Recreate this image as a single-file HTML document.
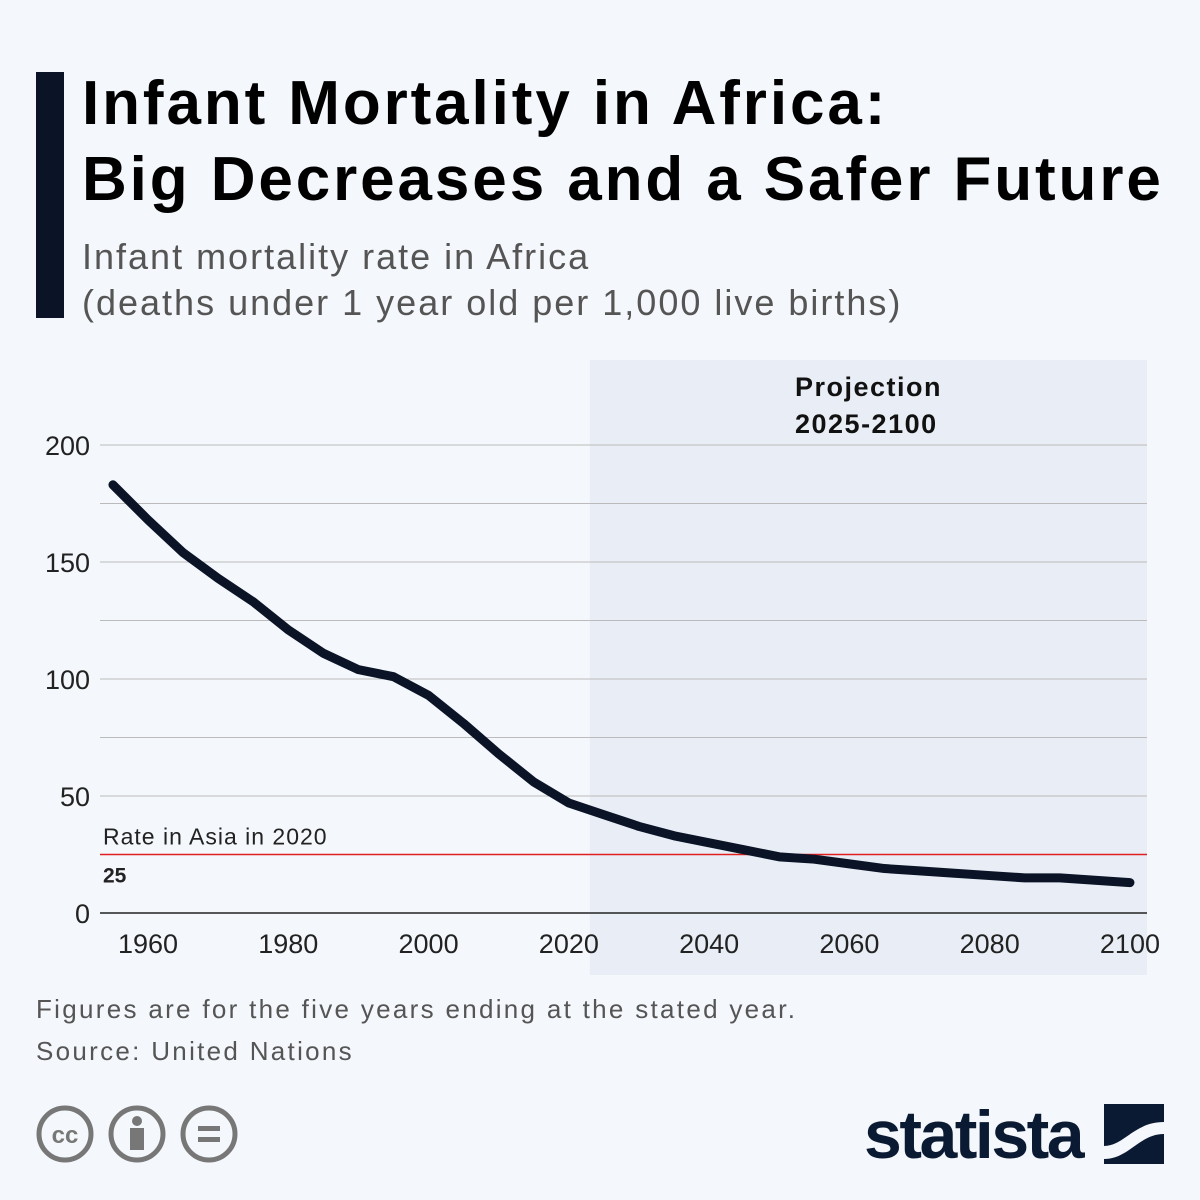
<!DOCTYPE html>
<html><head><meta charset="utf-8"><style>
body{margin:0;width:1200px;height:1200px;background:#f4f7fb;font-family:"Liberation Sans",sans-serif;overflow:hidden;position:relative}
.t{position:absolute;margin:0}
</style></head><body>
<div style="position:absolute;left:36px;top:72px;width:28px;height:246px;background:#0b1427"></div>
<h1 class="t" style="left:82px;top:66px;font-size:62px;line-height:76px;font-weight:bold;color:#000;letter-spacing:2.9px;white-space:nowrap">Infant Mortality in Africa:<br>Big Decreases and a Safer Future</h1>
<div class="t" style="left:82px;top:234px;font-size:36px;line-height:46px;color:#555;letter-spacing:2px;white-space:nowrap">Infant mortality rate in Africa<br>(deaths under 1 year old per 1,000 live births)</div>
<svg id="chart" width="1200" height="1200" style="position:absolute;left:0;top:0"></svg>
<div class="t" style="left:36px;top:988px;font-size:26px;line-height:42px;color:#555;letter-spacing:2.3px;white-space:nowrap">Figures are for the five years ending at the stated year.<br>Source: United Nations</div>
<svg width="220" height="60" style="position:absolute;left:36px;top:1104px">
<g fill="none" stroke="#777" stroke-width="5"><circle cx="29" cy="30" r="26"/><circle cx="101" cy="30" r="26"/><circle cx="173" cy="30" r="26"/></g>
<text x="29" y="39" text-anchor="middle" font-size="24" font-weight="bold" fill="#777" font-family="Liberation Sans">cc</text>
<circle cx="101" cy="17" r="5" fill="#777"/><rect x="94" y="24" width="14" height="22" fill="#777"/>
<rect x="162" y="22" width="22" height="5" fill="#777"/><rect x="162" y="33" width="22" height="5" fill="#777"/>
</svg>
<div class="t" style="left:864px;top:1096px;font-size:68px;font-weight:bold;color:#0b1a33;letter-spacing:-2.5px">statista</div>
<svg width="60" height="60" style="position:absolute;left:1104px;top:1104px"><rect width="60" height="60" fill="#0b1a33"/><path d="M0 42 C20 42 30 18 60 18 L60 30 C35 30 25 55 0 55Z" fill="#f4f7fb"/></svg>
<script>
const years=[1955,1960,1965,1970,1975,1980,1985,1990,1995,2000,2005,2010,2015,2020,2025,2030,2035,2040,2045,2050,2055,2060,2065,2070,2075,2080,2085,2090,2095,2100];
const rates=[183,168,154,143,133,121,111,104,101,93,81,68,56,47,42,37,33,30,27,24,23,21,19,18,17,16,15,15,14,13];
const yTicks=[0,50,100,150,200];
const xTicks=[1960,1980,2000,2020,2040,2060,2080,2100];
const asiaRate=25;
const ns="http://www.w3.org/2000/svg";
const svg=document.getElementById('chart');
const X=y=>148+(y-1960)*7.014;
const Y=v=>913-v*2.34;
function el(t,a){const e=document.createElementNS(ns,t);for(const k in a)e.setAttribute(k,a[k]);svg.appendChild(e);return e;}
let r=el('rect',{x:X(2023),y:360,width:1147-X(2023),height:615,fill:'#e9eef6'});


let pt=el('text',{x:795,y:396,'font-size':27,'font-weight':'bold',fill:'#111','letter-spacing':1.5});


pt.innerHTML='<tspan x="795">Projection</tspan><tspan x="795" dy="37">2025-2100</tspan>';
for(let v=25;v<=200;v+=25){if(v===asiaRate)continue;
let g=el('line',{x1:100,x2:1147,y1:Y(v),y2:Y(v),stroke:'#bbb','stroke-width':1});

}
yTicks.forEach(v=>{let t=el('text',{x:90,y:Y(v)+10,'text-anchor':'end','font-size':27,fill:'#222'});t.textContent=v;

});
xTicks.forEach(v=>{let t=el('text',{x:X(v),y:953,'text-anchor':'middle','font-size':27,fill:'#222'});t.textContent=v;

});
let ax=el('line',{x1:100,x2:1147,y1:Y(0),y2:Y(0),stroke:'#222','stroke-width':1.5});


let rl=el('line',{x1:100,x2:1147,y1:Y(asiaRate),y2:Y(asiaRate),stroke:'#e02020','stroke-width':1.5});


let rt=el('text',{x:103,y:Y(asiaRate)-10,'font-size':23,fill:'#222','letter-spacing':1});rt.textContent='Rate in Asia in 2020';


let rv=el('text',{x:103,y:Y(asiaRate)+28,'font-size':21,'font-weight':'bold',fill:'#222'});rv.textContent=asiaRate;


let p=el('polyline',{points:years.map((y,i)=>X(y)+','+Y(rates[i])).join(' '),fill:'none',stroke:'#0b1427','stroke-width':9,'stroke-linecap':'round','stroke-linejoin':'round'});


</script>
</body></html>
